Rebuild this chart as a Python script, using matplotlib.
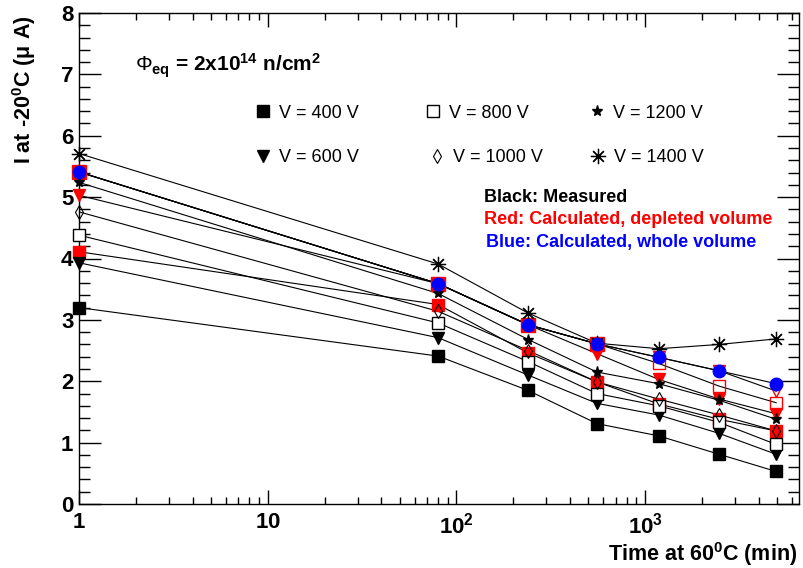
import numpy as np
import matplotlib
matplotlib.use('Agg')
import matplotlib.pyplot as plt
from matplotlib.ticker import MultipleLocator, LogLocator, NullFormatter, FuncFormatter, FixedLocator

plt.rcParams['font.family'] = ['Liberation Sans', 'DejaVu Sans']
plt.rcParams['mathtext.fontset'] = 'custom'
plt.rcParams['mathtext.rm'] = 'Liberation Sans'
plt.rcParams['mathtext.bf'] = 'Liberation Sans:bold'
plt.rcParams['mathtext.it'] = 'Liberation Sans:italic'
plt.rcParams['mathtext.sf'] = 'Liberation Sans'

# ---------------- data ----------------
time_min = [1, 80, 240, 555, 1180, 2470, 4950]

# measured (black)
meas_400 = [3.20, 2.41, 1.85, 1.31, 1.11, 0.81, 0.53]
meas_600 = [3.93, 2.71, 2.10, 1.64, 1.45, 1.15, 0.81]
meas_800 = [4.38, 2.95, 2.32, 1.80, 1.60, 1.33, 0.97]
meas_1000 = [4.76, 3.14, 2.50, 1.99, 1.71, 1.45, 1.19]
meas_1200 = [5.24, 3.43, 2.68, 2.15, 1.96, 1.69, 1.38]
meas_1400 = [5.71, 3.91, 3.11, 2.62, 2.53, 2.60, 2.69]

# calculated, depleted volume (red)
calc_dep_400 = [4.11, 3.25, 2.46, 1.99, 1.63, 1.38, 1.19]
calc_dep_600 = [5.03, 3.59, 2.92, 2.45, 2.03, 1.71, 1.47]
calc_dep_800 = [5.41, 3.59, 2.92, 2.61, 2.29, 1.92, 1.65]
calc_dep_1000 = [5.41, 3.59, 2.92, 2.61, 2.39, 2.17, 1.84]
calc_dep_1200 = [5.41, 3.59, 2.92, 2.61, np.nan, np.nan, np.nan]

# calculated, whole volume (blue)
calc_whole = [5.41, 3.59, 2.92, 2.61, 2.39, 2.17, 1.96]

legend_labels = ['V = 400 V', 'V = 600 V', 'V = 800 V',
                 'V = 1000 V', 'V = 1200 V', 'V = 1400 V']

x_ticks = [1, 10, 100, 1000]
y_ticks = [0, 1, 2, 3, 4, 5, 6, 7, 8]

# ---------------- figure ----------------
W, H = 804, 568
fig = plt.figure(figsize=(W / 100, H / 100), dpi=100)
ax = fig.add_axes([79 / W, 1 - 504 / H, (799 - 79) / W, (504 - 13) / H])

ast = (8, 2, 0)
line_kw = dict(color='black', lw=0.8, zorder=1)

red_series = [
    (calc_dep_400, dict(marker='s', ms=9, mfc='red', mec='red')),
    (calc_dep_600, dict(marker='v', ms=9, mfc='red', mec='red')),
    (calc_dep_800, dict(marker='s', ms=9, mfc='none', mec='red', mew=1.0)),
    (calc_dep_1000, dict(marker='v', ms=9, mfc='none', mec='red', mew=1.0)),
    (calc_dep_1200, dict(marker='s', ms=10, mfc='red', mec='red')),
]
black_series = [
    (meas_400, dict(marker='s', ms=8, mfc='black', mec='black')),
    (meas_600, dict(marker='v', ms=9, mfc='black', mec='black')),
    (meas_800, dict(marker='s', ms=9, mfc='white', mec='black', mew=1.0)),
    (meas_1000, dict(marker='d', ms=7, mfc='none', mec='black', mew=0.8)),
    (meas_1200, dict(marker='*', ms=8, mfc='black', mec='black')),
    (meas_1400, dict(marker=ast, ms=11, mec='black', mew=0.9)),
]

for vals, _ in red_series + black_series + [(calc_whole, None)]:
    ax.plot(time_min, vals, **line_kw)

for vals, kw in red_series:
    ax.plot(time_min, vals, ls='none', zorder=3, clip_on=False, **kw)
handles = []
for vals, kw in black_series:
    h, = ax.plot(time_min, vals, ls='none', zorder=4, clip_on=False, **kw)
    handles.append(h)
ax.plot(time_min, calc_whole, ls='none', marker='o', ms=9, mfc='blue', mec='blue',
        zorder=5, clip_on=False)

ax.set_xscale('log')
ax.set_xlim(1, 6540)
ax.set_ylim(0, 8)

ax.xaxis.set_major_locator(FixedLocator(x_ticks))
ax.xaxis.set_minor_locator(LogLocator(base=10, subs=np.arange(2, 10), numticks=20))
ax.xaxis.set_minor_formatter(NullFormatter())


def xfmt(v, pos):
    if v == 1:
        return r'$\mathbf{1}$'
    if v == 10:
        return r'$\mathbf{10}$'
    return r'$\mathbf{10^{%d}}$' % int(round(np.log10(v)))


ax.xaxis.set_major_formatter(FuncFormatter(xfmt))
ax.yaxis.set_major_locator(FixedLocator(y_ticks))
ax.yaxis.set_minor_locator(MultipleLocator(0.2))

ax.tick_params(axis='both', which='both', direction='in', top=True, right=True,
               width=1.0, colors='black')
ax.tick_params(axis='y', which='major', length=16, pad=4)
ax.tick_params(axis='y', which='minor', length=8)
ax.tick_params(axis='x', which='major', length=10, pad=6)
ax.tick_params(axis='x', which='minor', length=5)
for lab in ax.get_yticklabels():
    lab.set_fontweight('bold')
    lab.set_fontsize(16)
for lab in ax.get_xticklabels():
    lab.set_fontsize(16)
for s in ax.spines.values():
    s.set_linewidth(1.0)

# axis titles
fig.text(24 / W, 1 - 15 / H, 'I at -20$^{\\mathbf{0}}$C (\u03bc A)', rotation=90,
         ha='center', va='top', fontsize=15.5, fontweight='bold')
fig.text(797 / W, 1 - 554 / H, r'Time at 60$^{\mathbf{0}}$C (min)',
         ha='right', va='center', fontsize=15.5, fontweight='bold')

fig.text(135 / W, 1 - 66 / H,
         r'$\Phi_{\mathbf{eq}}$ = 2x10$^{\mathbf{14}}$ n/cm$^{\mathbf{2}}$',
         ha='left', va='center', fontsize=15, fontweight='bold')

# legend (one entry per position)
leg_pos = [(263, 113), (263, 158), (433, 113), (437, 158), (597, 113), (598, 158)]
fs_leg = 13
for h, lab, (px, py) in zip(handles, legend_labels, leg_pos):
    hl = 1.0
    off = hl * fs_leg * 100 / 72 / 2
    fig.legend([h], [lab], loc='center left',
               bbox_to_anchor=((px - off) / W, 1 - py / H),
               frameon=False, fontsize=fs_leg, handlelength=hl,
               handletextpad=0.4, borderpad=0, borderaxespad=0)

fig.text(484 / W, 1 - 197 / H, 'Black: Measured', color='black',
         fontsize=13, fontweight='bold', va='center', ha='left')
fig.text(484 / W, 1 - 219 / H, 'Red: Calculated, depleted volume', color='red',
         fontsize=13, fontweight='bold', va='center', ha='left')
fig.text(486 / W, 1 - 242 / H, 'Blue: Calculated, whole volume', color='blue',
         fontsize=13, fontweight='bold', va='center', ha='left')

fig.savefig('out.png', dpi=100)
